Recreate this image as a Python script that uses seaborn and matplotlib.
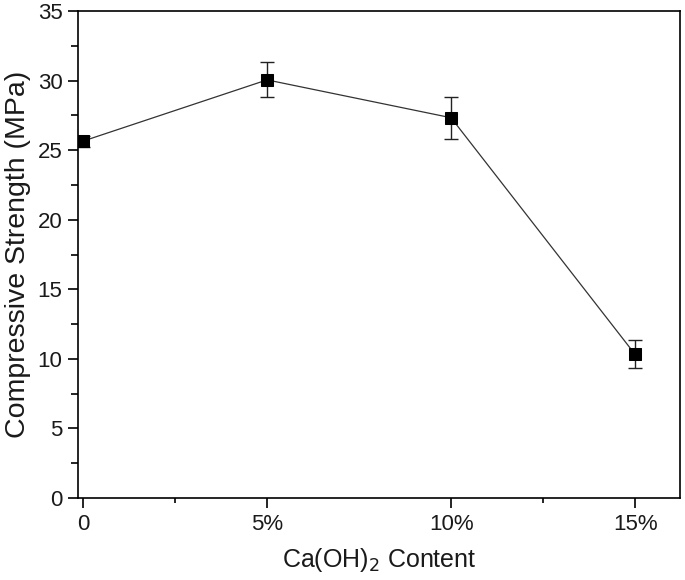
import matplotlib
matplotlib.use("Agg")
import matplotlib.pyplot as plt
import seaborn as sns
import pandas as pd
from matplotlib.ticker import MultipleLocator, FixedLocator

content = [0, 5, 10, 15]
tick_labels = ["0", "5%", "10%", "15%"]
strength = [25.65, 30.05, 27.33, 10.32]
err = [0.4, 1.25, 1.5, 1.0]

df = pd.DataFrame({"content": content, "strength": strength})

sns.set_theme(style="ticks")
plt.rcParams['font.family'] = ['Liberation Sans', 'DejaVu Sans']

fig = plt.figure(figsize=(6.85, 5.8), dpi=100)
ax = fig.add_axes([0.1139, 0.1414, 0.8788, 0.8396])

ax.errorbar(df["content"], df["strength"], yerr=err, fmt="none",
            ecolor="#222222", elinewidth=1.0, capsize=5, capthick=1.0, zorder=2)
sns.lineplot(data=df, x="content", y="strength", ax=ax, color="#333333",
             linewidth=0.9, marker="s", markersize=9, markerfacecolor="black",
             markeredgecolor="black", zorder=3)

ax.set_xlim(-0.136, 16.22)
ax.set_ylim(0, 35)
ax.xaxis.set_major_locator(FixedLocator(content))
ax.set_xticklabels(tick_labels)
ax.xaxis.set_minor_locator(FixedLocator([2.5, 12.5]))
ax.yaxis.set_major_locator(MultipleLocator(5))
ax.yaxis.set_minor_locator(MultipleLocator(2.5))

for s in ax.spines.values():
    s.set_visible(True)
    s.set_linewidth(1.2)
    s.set_color("black")

ax.tick_params(axis="both", which="major", direction="out", length=7.2, width=1.2,
               labelsize=16, colors="black", labelcolor="#1a1a1a", pad=4)
ax.tick_params(axis="y", which="minor", direction="out", length=5, width=1.2, colors="black")
ax.tick_params(axis="x", which="minor", direction="out", length=3.6, width=1.2, colors="black")
ax.tick_params(top=False, right=False, which="both")

ax.set_xlabel("Ca(OH)$_2$ Content", fontsize=18, labelpad=8, color="#1a1a1a")
ax.set_ylabel("Compressive Strength (MPa)", fontsize=20.5, labelpad=5, color="#1a1a1a")

fig.savefig("out.png", dpi=100, facecolor="white")
